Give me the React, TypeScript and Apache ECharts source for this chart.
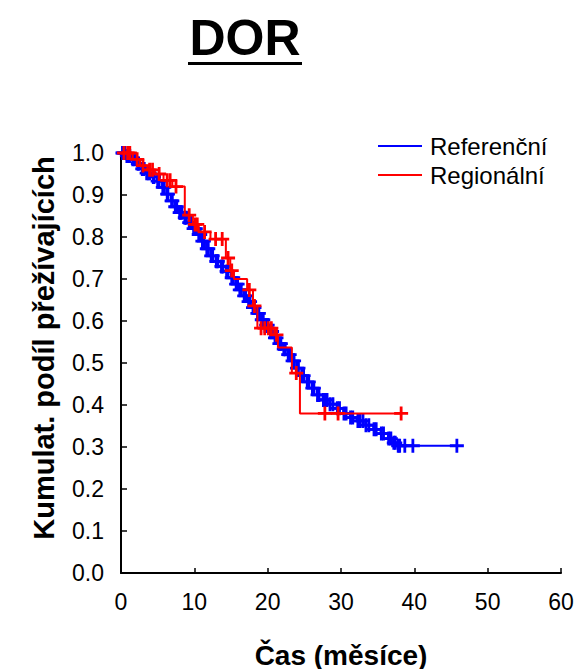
import React, { useEffect, useRef } from "react";
import * as echarts from "echarts";

const FONT = "'Liberation Sans', Arial, Helvetica, sans-serif";

const titleText = "DOR";
const xTitle = "Čas (měsíce)";
const yTitle = "Kumulat. podíl přežívajících";
const seriesNames = ["Referenční", "Regionální"];
const xTicks = [0, 10, 20, 30, 40, 50, 60];
const yTicks = [0, 0.1, 0.2, 0.3, 0.4, 0.5, 0.6, 0.7, 0.8, 0.9, 1.0];

// Referenční (blue) Kaplan-Meier steps: time, survival after the step
const blueTimes = [0, 0.7, 1.3, 2.1, 2.8, 3.4, 4.2, 4.9, 5.6, 6.2, 6.8, 7.3, 7.9, 8.6, 9.2, 9.8, 10.5, 11.0, 11.6, 12.2, 12.9, 13.6, 14.3, 15.0, 15.6, 16.1, 16.7, 17.3, 17.9, 18.5, 19.1, 19.7, 20.3, 20.9, 21.5, 22.1, 22.7, 23.3, 23.9, 24.6, 25.3, 26.0, 26.7, 27.5, 28.4, 29.4, 30.3, 31.2, 32.2, 33.3, 34.4, 35.4, 36.4, 37.1, 37.7, 46.0];
const blueSurv = [1.0, 0.993, 0.985, 0.975, 0.962, 0.952, 0.943, 0.933, 0.918, 0.902, 0.886, 0.872, 0.858, 0.846, 0.834, 0.82, 0.806, 0.79, 0.772, 0.755, 0.742, 0.73, 0.718, 0.703, 0.688, 0.674, 0.66, 0.646, 0.632, 0.618, 0.603, 0.59, 0.575, 0.56, 0.546, 0.533, 0.52, 0.505, 0.488, 0.47, 0.455, 0.44, 0.424, 0.412, 0.402, 0.392, 0.38, 0.37, 0.362, 0.352, 0.342, 0.332, 0.32, 0.31, 0.303, 0.303];
const blueCensored = [0.2, 0.3, 0.5, 0.8, 1.0, 1.2, 1.6, 1.9, 2.3, 2.4, 2.9, 3.1, 3.5, 3.7, 3.9, 4.4, 4.5, 5.0, 5.2, 5.7, 5.9, 6.3, 6.4, 6.9, 7.0, 7.4, 7.6, 8.0, 8.1, 8.3, 8.7, 8.9, 9.3, 9.5, 9.9, 10.2, 10.6, 10.8, 11.1, 11.3, 11.7, 11.9, 12.3, 12.5, 13.0, 13.2, 13.7, 13.9, 14.4, 14.6, 15.1, 15.3, 15.7, 15.9, 16.2, 16.4, 16.8, 17.0, 17.4, 17.6, 18.0, 18.2, 18.6, 18.8, 19.2, 19.4, 19.8, 20.0, 20.4, 20.6, 21.0, 21.2, 21.6, 21.8, 22.2, 22.4, 22.8, 23.0, 23.4, 23.6, 24.0, 24.2, 24.7, 24.9, 25.4, 25.6, 26.1, 26.3, 26.8, 27.0, 27.6, 27.8, 28.1, 28.5, 28.9, 29.5, 29.8, 30.4, 30.7, 31.3, 31.6, 32.3, 32.6, 33.0, 33.4, 33.8, 34.5, 34.8, 35.5, 35.8, 36.5, 36.8, 37.2, 37.4, 37.8, 38.0, 38.7, 39.8, 45.8];

// Regionální (red) Kaplan-Meier steps
const redTimes = [0, 1.6, 2.6, 3.6, 4.6, 5.8, 7.0, 8.7, 9.8, 10.6, 12.2, 14.3, 14.9, 15.4, 17.2, 18.0, 18.6, 20.9, 21.4, 23.3, 24.4, 38.2];
const redSurv = [1.0, 0.985, 0.97, 0.96, 0.95, 0.935, 0.92, 0.852, 0.83, 0.812, 0.795, 0.75, 0.72, 0.7, 0.674, 0.636, 0.583, 0.567, 0.537, 0.476, 0.38, 0.38];
const redCensored = [0.4, 0.9, 1.2, 2.2, 3.0, 3.9, 4.3, 5.2, 6.3, 6.7, 7.5, 9.3, 10.1, 10.4, 11.4, 12.9, 13.8, 14.6, 15.1, 17.5, 18.2, 19.1, 19.6, 20.1, 20.5, 21.2, 23.9, 27.8, 29.6, 38.2];

const BLUE = "#0000ff";
const RED = "#ff0000";
const PLUS = "path://M5.6,0H8.4V5.6H14V8.4H8.4V14H5.6V8.4H0V5.6H5.6Z";

function survivalAt(times: number[], surv: number[], t: number): number {
  let v = surv[0];
  for (let i = 0; i < times.length; i++) {
    if (times[i] <= t) v = surv[i];
    else break;
  }
  return v;
}

export default function App() {
  const ref = useRef<HTMLDivElement>(null);
  useEffect(() => {
    if (!ref.current) return;
    const chart = echarts.init(ref.current, null, { renderer: "svg" });
    const blueLine = blueTimes.map((t, i) => [t, blueSurv[i]]);
    const redLine = redTimes.map((t, i) => [t, redSurv[i]]);
    const blueMarks = blueCensored.map((t) => [t, survivalAt(blueTimes, blueSurv, t)]);
    const redMarks = redCensored.map((t) => [t, survivalAt(redTimes, redSurv, t)]);
    chart.setOption({
      animation: false,
      backgroundColor: "#ffffff",
      textStyle: { fontFamily: FONT },
      grid: { left: 121, right: 17, top: 153, bottom: 96 },
      legend: {
        data: seriesNames,
        orient: "vertical",
        left: 373,
        top: 129,
        icon: "rect",
        itemWidth: 44,
        itemHeight: 2,
        itemGap: 5,
        textStyle: { fontSize: 24, color: "#000", fontFamily: FONT, padding: [0, 0, 0, 3] },
      },
      xAxis: {
        type: "value",
        min: xTicks[0],
        max: xTicks[xTicks.length - 1],
        interval: 10,
        axisLine: { onZero: false, lineStyle: { color: "#000", width: 2 } },
        axisTick: { inside: true, length: 5, lineStyle: { color: "#000", width: 1.5 } },
        axisLabel: { fontSize: 23, color: "#000", margin: 17, fontFamily: FONT },
        splitLine: { show: false },
      },
      yAxis: {
        type: "value",
        min: yTicks[0],
        max: yTicks[yTicks.length - 1],
        interval: 0.1,
        axisLine: { onZero: false, lineStyle: { color: "#000", width: 2 } },
        axisTick: { inside: true, length: 6, lineStyle: { color: "#000", width: 1.5 } },
        axisLabel: {
          fontSize: 23,
          color: "#000",
          margin: 17,
          fontFamily: FONT,
          formatter: (v: number) => v.toFixed(1),
        },
        splitLine: { show: false },
      },
      graphic: [
        {
          type: "text",
          x: 245,
          y: 38,
          style: {
            text: titleText,
            font: `bold 50px ${FONT}`,
            fill: "#000",
            align: "center",
            verticalAlign: "middle",
          },
        },
        { type: "rect", shape: { x: 188, y: 62, width: 114, height: 3 }, style: { fill: "#000" } },
        {
          type: "text",
          x: 341,
          y: 655,
          style: {
            text: xTitle,
            font: `bold 28px ${FONT}`,
            fill: "#000",
            align: "center",
            verticalAlign: "middle",
          },
        },
        {
          type: "text",
          x: 44,
          y: 348,
          rotation: Math.PI / 2,
          style: {
            text: yTitle,
            font: `bold 29px ${FONT}`,
            fill: "#000",
            align: "center",
            verticalAlign: "middle",
          },
        },
      ],
      series: [
        {
          name: seriesNames[0],
          type: "line",
          step: "end",
          data: blueLine,
          showSymbol: false,
          symbol: "none",
          lineStyle: { color: BLUE, width: 2 },
          itemStyle: { color: BLUE },
          z: 2,
        },
        {
          name: seriesNames[0] + " censored",
          type: "scatter",
          data: blueMarks,
          symbol: PLUS,
          symbolSize: 14,
          itemStyle: { color: BLUE, opacity: 1 },
          z: 3,
        },
        {
          name: seriesNames[1],
          type: "line",
          step: "end",
          data: redLine,
          showSymbol: false,
          symbol: "none",
          lineStyle: { color: RED, width: 2 },
          itemStyle: { color: RED },
          z: 4,
        },
        {
          name: seriesNames[1] + " censored",
          type: "scatter",
          data: redMarks,
          symbol: PLUS,
          symbolSize: 14,
          itemStyle: { color: RED, opacity: 1 },
          z: 5,
        },
      ],
    });
    return () => chart.dispose();
  }, []);
  return (
    <div
      ref={ref}
      style={{ position: "absolute", left: 0, top: 0, width: 578, height: 669 }}
    />
  );
}
